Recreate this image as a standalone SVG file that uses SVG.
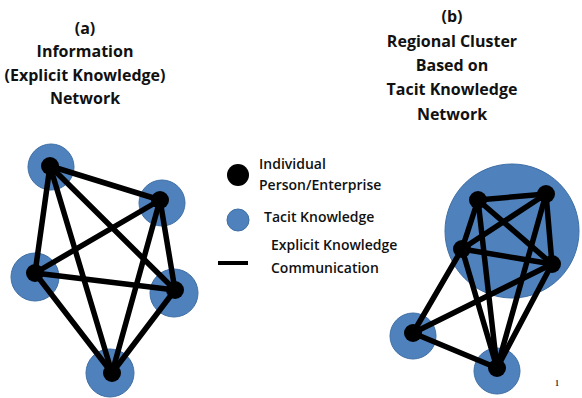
<svg xmlns="http://www.w3.org/2000/svg" width="582" height="398" viewBox="0 0 582 398">
<style>
.title{font-family:"Open Sans","Liberation Sans",sans-serif;font-weight:700;font-size:16px;fill:#111;text-anchor:middle}
.leg{font-family:"Open Sans","Liberation Sans",sans-serif;font-weight:600;font-size:14px;fill:#111}
.tacit{fill:#4f81bd;stroke:#3f6fa5;stroke-width:1}
.node{fill:#000}
.edge{stroke:#000;stroke-width:5.5;stroke-linecap:round;fill:none}
</style>
<rect width="582" height="398" fill="#fff"/>
<g id="title-a">
<text class="title" x="85" y="34">(a)</text>
<text class="title" x="85" y="57">Information</text>
<text class="title" x="85" y="81">(Explicit Knowledge)</text>
<text class="title" x="85" y="104">Network</text>
</g>
<g id="title-b">
<text class="title" x="452" y="22">(b)</text>
<text class="title" x="452" y="47">Regional Cluster</text>
<text class="title" x="452" y="71">Based on</text>
<text class="title" x="452" y="95">Tacit Knowledge</text>
<text class="title" x="452" y="120">Network</text>
</g>
<g id="tacit-a">
<circle class="tacit" cx="51" cy="167" r="23"/>
<circle class="tacit" cx="162" cy="203" r="23"/>
<circle class="tacit" cx="35" cy="277" r="24"/>
<circle class="tacit" cx="174" cy="293" r="24"/>
<circle class="tacit" cx="110" cy="373" r="24"/>
</g>
<g id="tacit-b">
<circle class="tacit" cx="512" cy="231" r="67"/>
<circle class="tacit" cx="413" cy="336" r="23"/>
<circle class="tacit" cx="497" cy="371" r="23"/>
</g>
<g id="connectors">
<line class="edge" x1="50" y1="166" x2="160" y2="200"/>
<line class="edge" x1="50" y1="166" x2="35" y2="273"/>
<line class="edge" x1="50" y1="166" x2="175" y2="290"/>
<line class="edge" x1="50" y1="166" x2="112" y2="373"/>
<line class="edge" x1="160" y1="200" x2="35" y2="273"/>
<line class="edge" x1="160" y1="200" x2="175" y2="290"/>
<line class="edge" x1="160" y1="200" x2="112" y2="373"/>
<line class="edge" x1="35" y1="273" x2="175" y2="290"/>
<line class="edge" x1="35" y1="273" x2="112" y2="373"/>
<line class="edge" x1="175" y1="290" x2="112" y2="373"/>
<line class="edge" x1="478" y1="200" x2="546" y2="194"/>
<line class="edge" x1="478" y1="200" x2="462" y2="249"/>
<line class="edge" x1="478" y1="200" x2="552" y2="264"/>
<line class="edge" x1="478" y1="200" x2="497" y2="368"/>
<line class="edge" x1="546" y1="194" x2="462" y2="249"/>
<line class="edge" x1="546" y1="194" x2="552" y2="264"/>
<line class="edge" x1="546" y1="194" x2="497" y2="368"/>
<line class="edge" x1="462" y1="249" x2="552" y2="264"/>
<line class="edge" x1="462" y1="249" x2="413" y2="333"/>
<line class="edge" x1="462" y1="249" x2="497" y2="368"/>
<line class="edge" x1="552" y1="264" x2="413" y2="333"/>
<line class="edge" x1="552" y1="264" x2="497" y2="368"/>
<line class="edge" x1="413" y1="333" x2="497" y2="368"/>
</g>
<g id="a1"><circle class="node" cx="50" cy="166" r="9"/></g>
<g id="a2"><circle class="node" cx="160" cy="200" r="9"/></g>
<g id="a3"><circle class="node" cx="35" cy="273" r="9"/></g>
<g id="a4"><circle class="node" cx="175" cy="290" r="9"/></g>
<g id="a5"><circle class="node" cx="112" cy="373" r="9"/></g>
<g id="b1"><circle class="node" cx="478" cy="200" r="9"/></g>
<g id="b2"><circle class="node" cx="546" cy="194" r="9"/></g>
<g id="b3"><circle class="node" cx="462" cy="249" r="9"/></g>
<g id="b4"><circle class="node" cx="552" cy="264" r="9"/></g>
<g id="b5"><circle class="node" cx="413" cy="333" r="9"/></g>
<g id="b6"><circle class="node" cx="497" cy="368" r="9"/></g>
<g id="legend">
<circle class="node" cx="238" cy="175" r="11"/>
<text class="leg" x="259" y="169">Individual</text>
<text class="leg" x="259" y="190">Person/Enterprise</text>
<circle class="tacit" cx="238" cy="220" r="11"/>
<text class="leg" x="264" y="222">Tacit Knowledge</text>
<line x1="218" y1="263" x2="248" y2="263" stroke="#000" stroke-width="4"/>
<text class="leg" x="271" y="250">Explicit Knowledge</text>
<text class="leg" x="271" y="273">Communication</text>
</g>
<text x="555" y="386" font-family="Liberation Serif,serif" font-size="8" font-weight="700" fill="#333">1</text>
</svg>
